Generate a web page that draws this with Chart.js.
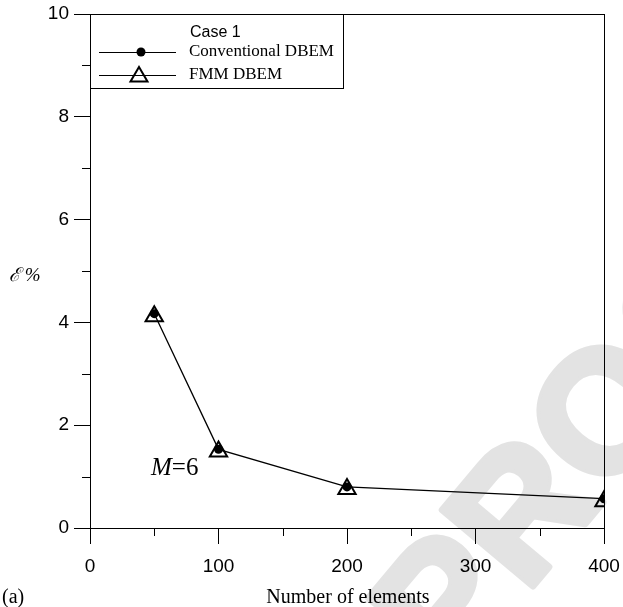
<!DOCTYPE html>
<html>
<head>
<meta charset="utf-8">
<script src="https://cdn.jsdelivr.net/npm/chart.js@4.4.1/dist/chart.umd.min.js"></script>
<style>
  body { margin: 0; background: #fff; }
  canvas { display: block; }
</style>
</head>
<body>
<canvas id="myChart" width="623" height="607"></canvas>
<script>
// data: error (%) against number of boundary elements
let elements = [50, 100, 200, 400];
let conventionalDbem = [4.17, 1.53, 0.80, 0.57];
let fmmDbem = [4.12, 1.49, 0.76, 0.52];
let xTickLabels = [0, 100, 200, 300, 400];
let yTickLabels = [0, 2, 4, 6, 8, 10];

let serif = '"Liberation Serif", "Times New Roman", serif';
let sans = '"Liberation Sans", Arial, sans-serif';

// ------------------------------------------------------------------------------------------
// frame, minor ticks, legend box and the loose texts
const extras = {
  id: 'extras',
  beforeDraw(chart) {
    const c = chart.ctx;
    // faint watermark behind everything
    c.save();
    c.translate(612, 418);
    c.rotate(-50 * Math.PI / 180);
    c.fillStyle = '#e3e3e3';
    c.strokeStyle = '#e3e3e3';
    c.lineWidth = 7;
    c.lineJoin = 'round';
    c.font = 'bold 172px ' + sans;
    c.textAlign = 'center';
    c.textBaseline = 'middle';
    c.strokeText('PROOF', 0, 0);
    c.fillText('PROOF', 0, 0);
    c.restore();
  },
  afterDraw(chart) {
    const c = chart.ctx;
    const a = chart.chartArea;
    const xs = chart.scales.x;
    const ys = chart.scales.y;
    c.save();
    c.strokeStyle = '#000';
    c.lineWidth = 1;
    c.strokeRect(a.left + 0.5, a.top + 0.5, a.right - a.left, a.bottom - a.top);

    // minor ticks
    c.beginPath();
    for (let v = 50; v < 400; v += 100) {
      const px = Math.round(xs.getPixelForValue(v)) + 0.5;
      c.moveTo(px, a.bottom);
      c.lineTo(px, a.bottom + 8);
    }
    for (let v = 1; v < 10; v += 2) {
      const py = Math.round(ys.getPixelForValue(v)) + 0.5;
      c.moveTo(a.left, py);
      c.lineTo(a.left - 8, py);
    }
    c.stroke();

    // legend box
    const lx = a.left, ly = a.top, lw = 253, lh = 74;
    c.fillStyle = '#fff';
    c.fillRect(lx + 1, ly + 1, lw - 1, lh - 1);
    c.strokeRect(lx + 0.5, ly + 0.5, lw, lh);
    c.fillStyle = '#000';
    c.textBaseline = 'middle';
    c.font = '16px ' + sans;
    c.fillText('Case 1', lx + 100, ly + 19);
    c.font = '17px ' + serif;
    c.fillText('Conventional DBEM', lx + 99, ly + 38);
    c.fillText('FMM DBEM', lx + 99, ly + 61);
    c.beginPath();
    c.moveTo(lx + 9, ly + 38.5);
    c.lineTo(lx + 86, ly + 38.5);
    c.moveTo(lx + 9, ly + 61.5);
    c.lineTo(lx + 86, ly + 61.5);
    c.stroke();
    c.beginPath();
    c.arc(lx + 51, ly + 38, 4.5, 0, Math.PI * 2);
    c.fill();
    c.lineWidth = 2;
    c.beginPath();
    c.moveTo(lx + 49, ly + 53);
    c.lineTo(lx + 57.5, ly + 67.5);
    c.lineTo(lx + 40.5, ly + 67.5);
    c.closePath();
    c.stroke();

    // axis titles and notes
    c.font = '20px ' + serif;
    c.textAlign = 'center';
    c.textBaseline = 'alphabetic';
    c.fillText('Number of elements', (a.left + a.right) / 2 + 1, 603);
    c.textAlign = 'left';
    c.fillText('(a)', 2, 603);
    c.font = 'italic 19px ' + serif;
    c.fillText('\u2130 %', 9, 281);
    c.font = 'italic 25px ' + serif;
    c.fillText('M', 151, 475);
    const mw = c.measureText('M').width;
    c.font = '25px ' + serif;
    c.fillText('=6', 151 + mw, 475);
    c.restore();
  }
};

// ------------------------------------------------------------------------------------------
const ctx = document.getElementById('myChart').getContext('2d');
let myChart = new Chart(ctx, {
  type: 'scatter',
  data: {
    datasets: [
      {
        label: 'Conventional DBEM',
        data: elements.map((x, i) => ({ x: x, y: conventionalDbem[i] })),
        showLine: true,
        borderColor: '#000',
        borderWidth: 1.3,
        backgroundColor: '#000',
        pointStyle: 'circle',
        pointRadius: 4.5,
        pointBorderWidth: 0,
      },
      {
        label: 'FMM DBEM',
        data: elements.map((x, i) => ({ x: x, y: fmmDbem[i] })),
        showLine: false,
        borderColor: '#000',
        backgroundColor: 'rgba(0,0,0,0)',
        pointStyle: 'triangle',
        pointRadius: 10,
        pointBorderWidth: 2,
      },
    ],
  },
  options: {
    responsive: false,
    animation: false,
    devicePixelRatio: 1,
    layout: { padding: { top: 14, right: 19, left: 0, bottom: 0 } },
    plugins: {
      legend: { display: false },
      tooltip: { enabled: false },
    },
    scales: {
      x: {
        type: 'linear',
        min: 0,
        max: 400,
        afterFit: (s) => { s.height = 79; s.paddingRight = 0; s.paddingLeft = 0; },
        afterBuildTicks: (s) => { s.ticks = xTickLabels.map((v) => ({ value: v })); },
        ticks: {
          color: '#000',
          font: { family: sans, size: 19 },
          padding: 11,
          maxRotation: 0,
          autoSkip: false,
        },
        grid: { drawOnChartArea: false, tickLength: 16, color: '#000' },
        border: { color: '#000', width: 1 },
      },
      y: {
        min: 0,
        max: 10,
        afterFit: (s) => { s.width = 90; s.paddingTop = 0; s.paddingBottom = 0; },
        afterBuildTicks: (s) => { s.ticks = yTickLabels.map((v) => ({ value: v })); },
        ticks: {
          color: '#000',
          font: { family: sans, size: 19 },
          padding: 5,
        },
        grid: { drawOnChartArea: false, tickLength: 16, color: '#000' },
        border: { color: '#000', width: 1 },
      },
    },
  },
  plugins: [extras],
});
</script>
</body>
</html>
